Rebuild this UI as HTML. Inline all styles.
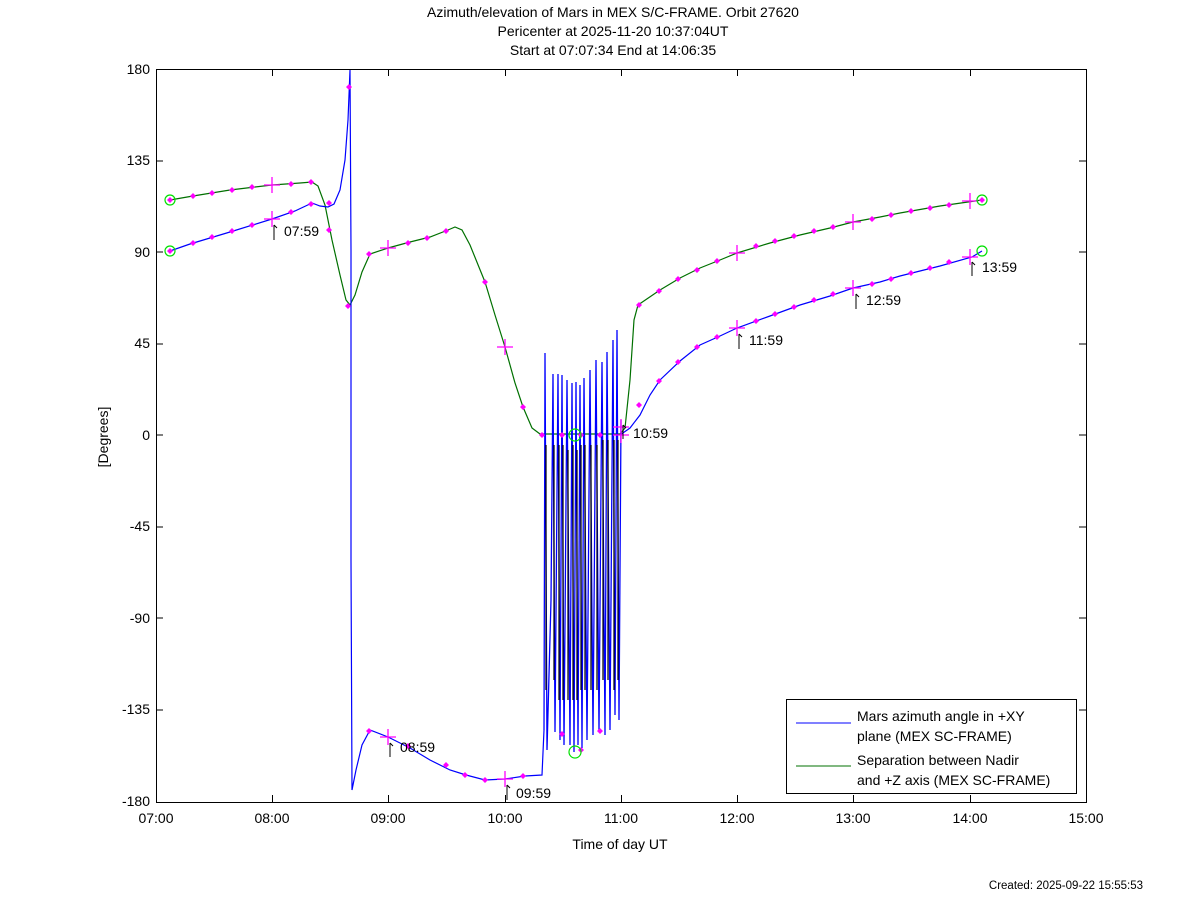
<!DOCTYPE html>
<html><head><style>
body{margin:0;background:#fff}
svg text{font-family:"Liberation Sans",sans-serif;font-size:14px;fill:#000}
</style></head><body>
<svg width="1200" height="901" viewBox="0 0 1200 901" xmlns="http://www.w3.org/2000/svg">
<rect width="1200" height="901" fill="#fff"/>
<text x="613" y="17" text-anchor="middle">Azimuth/elevation of Mars in MEX S/C-FRAME.  Orbit 27620</text>
<text x="613" y="36" text-anchor="middle">Pericenter at 2025-11-20 10:37:04UT</text>
<text x="613" y="55" text-anchor="middle">Start at 07:07:34 End at 14:06:35</text>
<rect x="156.5" y="69.5" width="930" height="733" fill="none" stroke="#000"/>
<g stroke="#000">
<path d="M156 161h7M156 252h7M156 344h7M156 435h7M156 527h7M156 618h7M156 710h7M1086 161h-7M1086 252h-7M1086 344h-7M1086 435h-7M1086 527h-7M1086 618h-7M1086 710h-7"/>
<path d="M272.5 802v-7M388.5 802v-7M505.5 802v-7M621.5 802v-7M737.5 802v-7M853.5 802v-7M970.5 802v-7M272.5 69v7M388.5 69v7M505.5 69v7M621.5 69v7M737.5 69v7M853.5 69v7M970.5 69v7"/>
</g>
<g text-anchor="end">
<text x="150" y="74">180</text><text x="150" y="165">135</text><text x="150" y="257">90</text><text x="150" y="348">45</text><text x="150" y="440">0</text><text x="150" y="531">-45</text><text x="150" y="623">-90</text><text x="150" y="714">-135</text><text x="150" y="806">-180</text>
</g>
<g text-anchor="middle">
<text x="156" y="823">07:00</text><text x="272" y="823">08:00</text><text x="388" y="823">09:00</text><text x="505" y="823">10:00</text><text x="621" y="823">11:00</text><text x="737" y="823">12:00</text><text x="853" y="823">13:00</text><text x="970" y="823">14:00</text><text x="1086" y="823">15:00</text>
<text x="620" y="849">Time of day UT</text>
</g>
<text transform="translate(108,437) rotate(-90)" text-anchor="middle">[Degrees]</text>
<text x="1143" y="889" text-anchor="end" style="font-size:11.5px">Created: 2025-09-22 15:55:53</text>

<polyline fill="none" stroke="#007000" stroke-width="1.2" points="170,200 193,196 230,190 272,185 300,183 312,182 318,186 325,205 332,240 340,275 346,300 350,305 355,295 362,272 370,254 388,248 410,242 430,237 448,230 455,227 462,230 470,245 485,282 495,315 505,347 515,383 523,407 532,428 540,434 620,434 625,428 630,380 634,320 638,305 660,290 680,278 700,268 720,260 737,253 770,243 800,235 830,228 853,222 880,217 900,213 940,206 982,200"/>
<polyline fill="none" stroke="#0000ff" stroke-width="1.2" points="170,251 190,244 230,232 272,219 295,211 312,203 320,206 328,207 334,204 340,190 345,160 348,120 350,70 351,250 351,560 352,790 356,770 362,745 370,730 388,737 410,748 430,760 450,770 466,775 485,780 505,779 525,776 542,775 544,730"/>
<polyline fill="none" stroke="#0000ff" stroke-width="1.2" points="620,435 630,428 640,415 650,395 660,380 680,361 700,345 720,336 737,328 770,316 800,305 830,296 853,288 880,282 900,276 940,266 972,257 982,251"/>
<g stroke="#0000ff" stroke-width="1.3" fill="none">
<path d="M544 730L545 353L547 750L551 600L553 374L555 732L558 374L560 740L562 375L564 745L567 380L570 745L572 383L574 752L576 382L578 745L580 385L582 748L584 378L587 740L590 370L593 735L596 360L599 732L602 362L605 735L607 352L610 730L613 340L615 715L617 330L619 720L621 420"/>
</g>
<g stroke="#000" stroke-width="1.2" fill="none">
<path d="M546 445V690M554 445V680M559 445V700M563 445V700M568 450V700M573 445V700M577 450V700M581 445V690M585 445V690M591 445V690M597 445V690M603 440V680M608 440V680M614 440V690M618 440V680"/>
</g>
<g fill="#ff00ff">
<path d="M170 200m-3 0l3-3 3 3-3 3zM193 196m-3 0l3-3 3 3-3 3zM212 193m-3 0l3-3 3 3-3 3zM232 190m-3 0l3-3 3 3-3 3zM252 187m-3 0l3-3 3 3-3 3zM291 184m-3 0l3-3 3 3-3 3zM311 182m-3 0l3-3 3 3-3 3zM329 230m-3 0l3-3 3 3-3 3zM348 306m-3 0l3-3 3 3-3 3zM369 254m-3 0l3-3 3 3-3 3zM408 243m-3 0l3-3 3 3-3 3zM427 238m-3 0l3-3 3 3-3 3zM446 231m-3 0l3-3 3 3-3 3zM485 282m-3 0l3-3 3 3-3 3zM523 407m-3 0l3-3 3 3-3 3zM542 435m-3 0l3-3 3 3-3 3zM562 435m-3 0l3-3 3 3-3 3zM581 435m-3 0l3-3 3 3-3 3zM600 435m-3 0l3-3 3 3-3 3zM639 305m-3 0l3-3 3 3-3 3zM659 291m-3 0l3-3 3 3-3 3zM678 279m-3 0l3-3 3 3-3 3zM697 270m-3 0l3-3 3 3-3 3zM717 261m-3 0l3-3 3 3-3 3zM756 246m-3 0l3-3 3 3-3 3zM775 241m-3 0l3-3 3 3-3 3zM794 236m-3 0l3-3 3 3-3 3zM814 231m-3 0l3-3 3 3-3 3zM833 227m-3 0l3-3 3 3-3 3zM872 219m-3 0l3-3 3 3-3 3zM891 215m-3 0l3-3 3 3-3 3zM911 211m-3 0l3-3 3 3-3 3zM930 208m-3 0l3-3 3 3-3 3zM949 205m-3 0l3-3 3 3-3 3zM982 200m-3 0l3-3 3 3-3 3z"/>
<path d="M170 251m-3 0l3-3 3 3-3 3zM193 243m-3 0l3-3 3 3-3 3zM212 237m-3 0l3-3 3 3-3 3zM232 231m-3 0l3-3 3 3-3 3zM252 225m-3 0l3-3 3 3-3 3zM291 212m-3 0l3-3 3 3-3 3zM311 204m-3 0l3-3 3 3-3 3zM329 203m-3 0l3-3 3 3-3 3zM349 87m-3 0l3-3 3 3-3 3zM369 731m-3 0l3-3 3 3-3 3zM408 746m-3 0l3-3 3 3-3 3zM446 765m-3 0l3-3 3 3-3 3zM465 775m-3 0l3-3 3 3-3 3zM485 780m-3 0l3-3 3 3-3 3zM523 776m-3 0l3-3 3 3-3 3zM562 734m-3 0l3-3 3 3-3 3zM581 750m-3 0l3-3 3 3-3 3zM600 731m-3 0l3-3 3 3-3 3zM639 405m-3 0l3-3 3 3-3 3zM659 381m-3 0l3-3 3 3-3 3zM678 362m-3 0l3-3 3 3-3 3zM697 347m-3 0l3-3 3 3-3 3zM717 337m-3 0l3-3 3 3-3 3zM756 321m-3 0l3-3 3 3-3 3zM775 314m-3 0l3-3 3 3-3 3zM794 307m-3 0l3-3 3 3-3 3zM814 300m-3 0l3-3 3 3-3 3zM833 294m-3 0l3-3 3 3-3 3zM872 284m-3 0l3-3 3 3-3 3zM891 279m-3 0l3-3 3 3-3 3zM911 273m-3 0l3-3 3 3-3 3zM930 268m-3 0l3-3 3 3-3 3zM949 262m-3 0l3-3 3 3-3 3z"/>
</g>
<g stroke="#ff00ff" stroke-width="1.3">
<path d="M264 185h16M272 177v16M264 219h16M272 211v16M380 248h16M388 240v16M380 737h16M388 729v16M497 347h16M505 339v16M497 779h16M505 771v16M613 427h16M621 419v16M613 435h16M621 427v16M729 253h16M737 245v16M729 328h16M737 320v16M845 222h16M853 214v16M845 288h16M853 280v16M962 201h16M970 193v16M962 257h16M970 249v16"/>
</g>
<g stroke="#00e000" fill="none" stroke-width="1.2">
<circle cx="170" cy="200" r="5"/><circle cx="170" cy="251" r="5"/><circle cx="982" cy="200" r="5"/><circle cx="982" cy="251" r="5"/><circle cx="575" cy="435" r="6"/><circle cx="575" cy="752" r="6"/>
</g>
<g stroke="#000" fill="none">
<path d="M274 225v15M274 225l3 3M390 743v14M390 743l3 3M507 785v15M507 785l3 3M623 425v14M623 425l3 3M739 334v15M739 334l3 3M856 294v15M856 294l3 3M972 262v14M972 262l3 3"/>
</g>
<text x="284" y="236">07:59</text>
<text x="400" y="752">08:59</text>
<text x="516" y="798">09:59</text>
<text x="633" y="438">10:59</text>
<text x="749" y="345">11:59</text>
<text x="866" y="305">12:59</text>
<text x="982" y="272">13:59</text>
<rect x="786.5" y="699.5" width="290" height="94" fill="#fff" stroke="#000"/>
<line x1="796" y1="723" x2="851" y2="723" stroke="#0000ff"/>
<line x1="796" y1="766" x2="851" y2="766" stroke="#007000"/>
<text x="857" y="721">Mars azimuth angle in +XY</text>
<text x="857" y="741">plane (MEX SC-FRAME)</text>
<text x="857" y="765">Separation between Nadir</text>
<text x="857" y="785">and +Z axis (MEX SC-FRAME)</text>
</svg>
</body></html>
